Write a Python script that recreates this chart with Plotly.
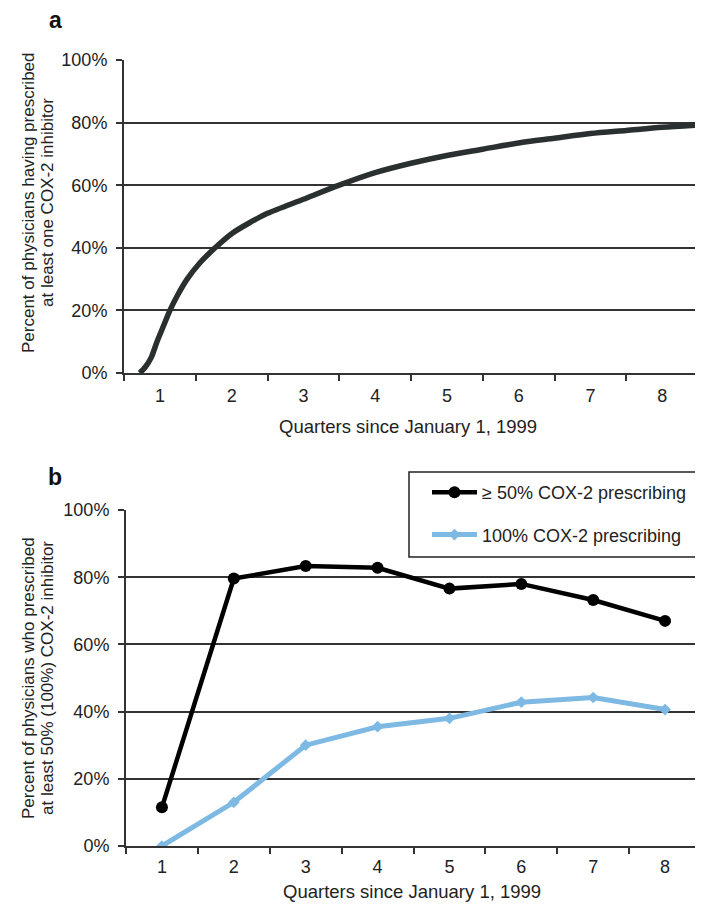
import plotly.graph_objects as go

# ---- data ----
quarters = [1, 2, 3, 4, 5, 6, 7, 8]
quarter_labels = ["1", "2", "3", "4", "5", "6", "7", "8"]
boundary_ticks = [0.5, 1.5, 2.5, 3.5, 4.5, 5.5, 6.5, 7.5, 8.5]
pct_ticks = [0, 20, 40, 60, 80, 100]
pct_labels = ["0%", "20%", "40%", "60%", "80%", "100%"]

# panel a: cumulative share of physicians having prescribed a COX-2 inhibitor
a_x = [0.72, 0.8, 0.88, 0.96, 1.05, 1.14, 1.25, 1.38, 1.55, 1.77, 2.0, 2.25,
       2.5, 3.0, 3.5, 4.0, 4.5, 5.0, 5.5, 6.0, 6.5, 7.0, 7.5, 8.0, 8.5]
a_y = [0, 2, 5, 10, 15, 20, 25, 30, 35, 40, 44.5, 48,
       51, 55.5, 60, 64, 67, 69.5, 71.5, 73.5, 75, 76.5, 77.5, 78.5, 79.2]

# panel b
b_50 = [11.5, 79.6, 83.3, 82.8, 76.6, 78.0, 73.2, 67.0]
b_100 = [0.0, 13.0, 30.0, 35.5, 38.0, 42.8, 44.2, 40.6]
name_50 = "≥ 50% COX-2 prescribing"
name_100 = "100% COX-2 prescribing"

W, H = 703, 905
OFF = 8  # page body margin
FONT = "Liberation Sans, Arial, sans-serif"
TXT = "#222222"
GRID = "#333333"

def px_x(p):
    return (p - OFF) / W

def px_y(p):
    return 1 - (p - OFF) / H

fig = go.Figure()
fig.add_trace(go.Scatter(
    x=a_x, y=a_y, mode="lines",
    line=dict(color="#2a3030", width=5.5, shape="spline", smoothing=0.8),
    showlegend=False, xaxis="x", yaxis="y"))
fig.add_trace(go.Scatter(
    x=quarters, y=b_50, mode="lines+markers", name=name_50,
    line=dict(color="#000000", width=4.5),
    marker=dict(symbol="circle", size=12, color="#000000"),
    legendgroup="g1", xaxis="x2", yaxis="y2"))
fig.add_trace(go.Scatter(
    x=quarters, y=b_100, mode="lines+markers", name=name_100,
    line=dict(color="#7db9e2", width=5),
    marker=dict(symbol="diamond", size=9, color="#7db9e2"),
    legendgroup="g2", xaxis="x2", yaxis="y2"))

def xaxis_cfg(x0, x1, standoff):
    return dict(
        domain=[px_x(x0), px_x(x1)], range=[0.5, 8.5], automargin=False,
        tickmode="array", tickvals=quarters, ticktext=quarter_labels, ticks="",
        ticklabelstandoff=standoff,
        showgrid=False, zeroline=False, showline=True,
        linecolor=GRID, linewidth=2,
        tickfont=dict(family=FONT, size=18, color=TXT),
        minor=dict(tickmode="array", tickvals=boundary_ticks, ticks="outside",
                   ticklen=6, tickwidth=2, tickcolor=GRID, showgrid=False),
        fixedrange=True)

def yaxis_cfg(y_top, y_bot, anchor):
    return dict(
        domain=[px_y(y_bot), px_y(y_top)], range=[0, 100], automargin=False,
        tickmode="array", tickvals=pct_ticks, ticktext=pct_labels,
        ticks="outside", ticklen=6, tickwidth=2, tickcolor=GRID,
        ticklabelstandoff=5,
        showgrid=True, gridcolor=GRID, gridwidth=2,
        zeroline=False, showline=True, linecolor=GRID, linewidth=2,
        tickfont=dict(family=FONT, size=18, color=TXT),
        anchor=anchor, fixedrange=True)

fig.update_layout(
    width=W, height=H, autosize=False,
    margin=dict(l=0, r=0, t=0, b=0, pad=0, autoexpand=False),
    paper_bgcolor="white", plot_bgcolor="white",
    font=dict(family=FONT, size=18, color=TXT),
    xaxis=dict(anchor="y", **xaxis_cfg(124, 698, 5)),
    yaxis=yaxis_cfg(60, 373, "x"),
    xaxis2=dict(anchor="y2", **xaxis_cfg(126, 701, 3)),
    yaxis2=yaxis_cfg(510, 846, "x2"),
    legend=dict(
        x=px_x(427), y=px_y(474), xanchor="left", yanchor="top",
        bgcolor="rgba(0,0,0,0)", borderwidth=0,
        font=dict(family=FONT, size=18, color=TXT),
        traceorder="grouped", tracegroupgap=16,
        itemwidth=45),
    showlegend=True,
    shapes=[dict(type="rect", xref="paper", yref="paper",
                 x0=px_x(409), x1=px_x(712), y0=px_y(557), y1=px_y(472),
                 fillcolor="white", line=dict(color="#222222", width=1.5),
                 layer="above")],
)

annotations = [
    dict(text="<b>a</b>", x=px_x(55), y=px_y(20), font=dict(size=23, color="#111")),
    dict(text="<b>b</b>", x=px_x(55), y=px_y(477), font=dict(size=23, color="#111")),
    dict(text="Quarters since January 1, 1999", x=px_x(408), y=px_y(426),
         font=dict(size=18.5, color=TXT)),
    dict(text="Quarters since January 1, 1999", x=px_x(412), y=px_y(891),
         font=dict(size=18.5, color=TXT)),
    dict(text="Percent of physicians having prescribed", x=px_x(28), y=px_y(203), textangle=-90),
    dict(text="at least one COX-2 inhibitor", x=px_x(47), y=px_y(203), textangle=-90),
    dict(text="Percent of physicians who prescribed", x=px_x(28), y=px_y(678), textangle=-90),
    dict(text="at least 50% (100%) COX-2 inhibitor", x=px_x(47), y=px_y(678), textangle=-90),
]
for a in annotations:
    a.setdefault("font", dict(size=17, color=TXT))
    a["font"]["family"] = FONT
    a.update(xref="paper", yref="paper", showarrow=False,
             xanchor="center", yanchor="middle")
fig.update_layout(annotations=annotations)

fig.write_html("out.html")
